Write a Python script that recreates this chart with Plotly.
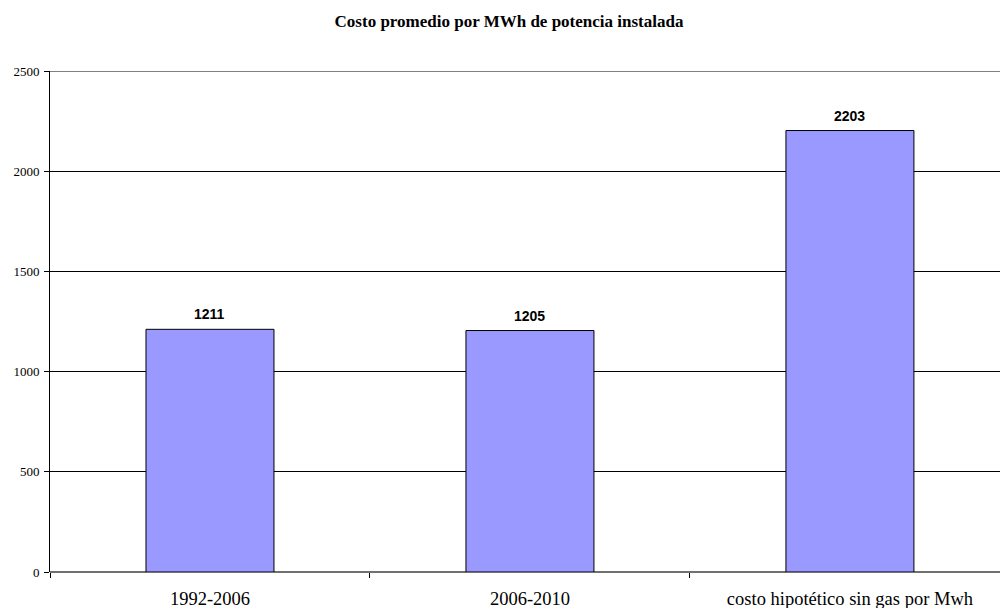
import plotly.graph_objects as go

# Costo promedio por MWh de potencia instalada
periodos = ["1992-2006", "2006-2010", "costo hipotético sin gas por Mwh"]
costos = [1211, 1205, 2203]
y_ticks = [0, 500, 1000, 1500, 2000, 2500]

fig = go.Figure()
fig.add_trace(go.Bar(
    x=periodos,
    y=costos,
    width=0.4,
    marker=dict(color="#9999FF", line=dict(color="black", width=1)),
    hoverinfo="x+y",
))

for p, c in zip(periodos, costos):
    fig.add_annotation(
        x=p, y=c, text=f"<b>{c}</b>", showarrow=False,
        yanchor="middle", yshift=15,
        font=dict(family="Liberation Sans, Arial", size=14, color="black"),
    )

# top gridline drawn in gray
fig.add_shape(type="line", xref="paper", yref="y", x0=0, x1=1, y0=2500, y1=2500,
              line=dict(color="#808080", width=2), layer="above")

fig.update_layout(
    width=1000, height=608,
    margin=dict(l=50, r=0, t=71, b=36),
    paper_bgcolor="white", plot_bgcolor="white",
    showlegend=False,
    title=dict(
        text="<b>Costo promedio por MWh de potencia instalada</b>",
        xref="container", x=0.509, xanchor="center",
        yref="container", y=1 - 21 / 608, yanchor="middle",
        font=dict(family="Liberation Serif, Times New Roman", size=17, color="black"),
    ),
    xaxis=dict(
        range=[-0.5, 2.469],
        showgrid=False,
        tickson="boundaries",
        ticks="outside", ticklen=5, tickcolor="black", tickwidth=1,
        showline=False,
        zeroline=False,
        tickfont=dict(family="Liberation Serif, Times New Roman", size=18.5, color="black"),
        ticklabelstandoff=13,
    ),
    yaxis=dict(
        range=[0, 2500],
        tickvals=y_ticks,
        showgrid=True, gridcolor="black", gridwidth=1,
        zeroline=True, zerolinecolor="#707070", zerolinewidth=2,
        showline=True, linecolor="black", linewidth=1,
        ticks="outside", ticklen=5, tickcolor="black",
        ticklabelstandoff=2,
        tickfont=dict(family="Liberation Serif, Times New Roman", size=13, color="black"),
    ),
)

fig.write_html("out.html")
